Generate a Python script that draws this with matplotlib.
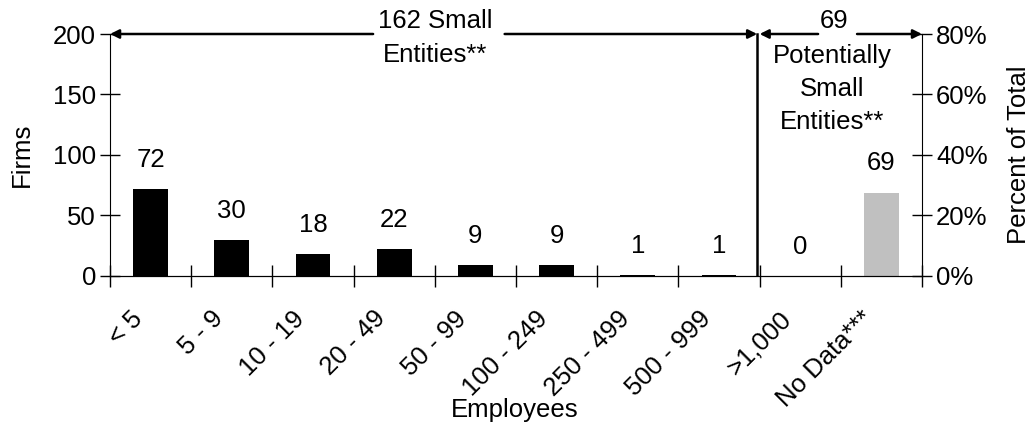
import matplotlib
matplotlib.use("Agg")
import matplotlib.pyplot as plt
from matplotlib.ticker import FuncFormatter, FixedLocator

plt.rcParams['font.family'] = ['Liberation Sans', 'DejaVu Sans']
plt.rcParams['font.size'] = 18.5

categories = ["< 5", "5 - 9", "10 - 19", "20 - 49", "50 - 99", "100 - 249",
              "250 - 499", "500 - 999", ">1,000", "No Data***"]
firms = [72, 30, 18, 22, 9, 9, 1, 1, 0, 69]
bar_colors = ["black"] * 9 + ["#c0c0c0"]
left_ticks = [0, 50, 100, 150, 200]
right_ticks = [0, 0.2, 0.4, 0.6, 0.8]

fig = plt.figure(figsize=(10.34, 4.25), dpi=100)
ax = fig.add_axes([0.1064, 0.3506, 0.7853, 0.5694])
x = list(range(len(categories)))
ax.bar(x, firms, width=0.43, color=bar_colors)
ax.set_xlim(-0.5, len(categories) - 0.5)
ax.set_ylim(0, 200)
ax.set_yticks(left_ticks)
ax.spines['top'].set_visible(False)
ax.spines['right'].set_visible(False)
ax.tick_params(axis='y', direction='inout', length=14, width=1, pad=3)

# x ticks at category boundaries, labels at centres
ax.xaxis.set_major_locator(FixedLocator([i - 0.5 for i in range(len(categories) + 1)]))
ax.xaxis.set_major_formatter(FuncFormatter(lambda v, p: ""))
ax.xaxis.set_minor_locator(FixedLocator([i - 0.15 for i in x]))
ax.set_xticklabels(categories, minor=True, rotation=45, ha='right', va='center',
                   rotation_mode='anchor')
ax.tick_params(axis='x', which='major', direction='inout', length=16, width=1)
ax.tick_params(axis='x', which='minor', length=0, pad=28)
fig.text(515 / 1034, 1 - 410 / 425, "Employees", ha='center', va='center')
ax.set_ylabel("Firms", labelpad=14)

for xi, v in zip(x, firms):
    ax.annotate(str(v), (xi, v), xytext=(0, 21), textcoords='offset points',
                ha='center', va='center')

ax2 = ax.twinx()
ax2.set_position(ax.get_position())
ax2.set_ylim(0, 0.8)
ax2.set_yticks(right_ticks)
ax2.yaxis.set_major_formatter(FuncFormatter(lambda v, p: f"{v*100:.0f}%"))
ax2.spines['top'].set_visible(False)
ax2.spines['left'].set_visible(False)
ax2.tick_params(axis='y', direction='inout', length=14, width=1, pad=3)
ax2.set_ylabel("Percent of Total", labelpad=14)

# divider and arrows
div = 7.47
ax.plot([div, div], [1, 200], color='black', lw=1.8, clip_on=False)
ap = dict(arrowstyle='-|>', lw=1.8, color='black', mutation_scale=13,
          shrinkA=0, shrinkB=0)
ax.annotate("", xy=(-0.5, 200), xytext=(2.74, 200), arrowprops=ap, annotation_clip=False)
ax.annotate("", xy=(div, 200), xytext=(4.36, 200), arrowprops=ap, annotation_clip=False)
ax.annotate("", xy=(div + 0.03, 200), xytext=(8.22, 200), arrowprops=ap, annotation_clip=False)
ax.annotate("", xy=(9.5, 200), xytext=(8.70, 200), arrowprops=ap, annotation_clip=False)

ax.text(3.5, 211, "162 Small", ha='center', va='center', clip_on=False)
ax.text(3.5, 183, "Entities**", ha='center', va='center', clip_on=False)
ax.text(8.42, 211, "69", ha='center', va='center', clip_on=False)
ax.text(8.39, 182, "Potentially", ha='center', va='center')
ax.text(8.39, 154.5, "Small", ha='center', va='center')
ax.text(8.39, 127, "Entities**", ha='center', va='center')

fig.savefig("out.png", dpi=100)
